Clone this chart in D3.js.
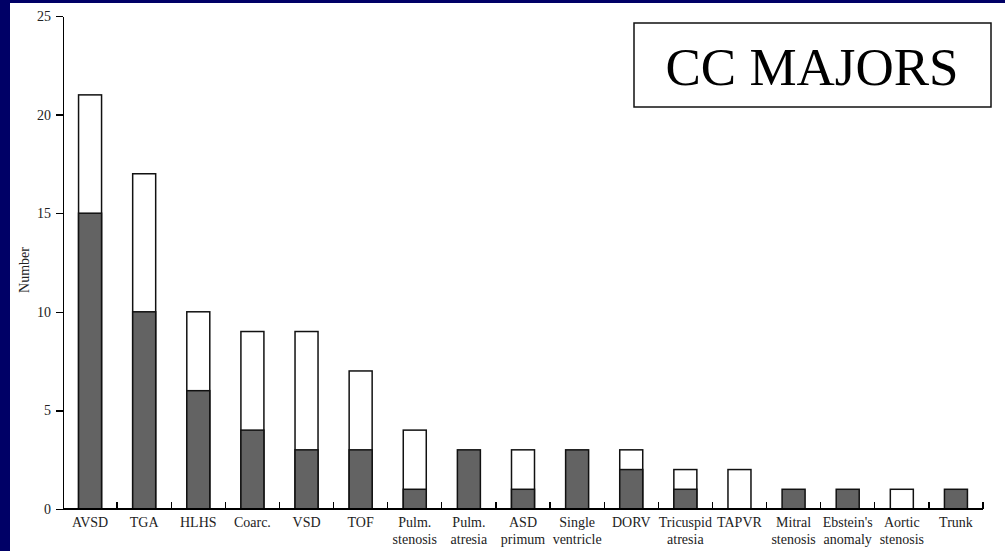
<!DOCTYPE html>
<html lang="en">
<head>
    <meta charset="UTF-8">
    <title>CC majors</title>
    <style>
        body{ margin:0; background:#000066; }
        svg{ display:block; }
        .axis text{ font: 14px "Liberation Serif", "DejaVu Serif", serif; fill:#222; }
        .axis path, .axis line{ fill:none; stroke:#000; stroke-width:1.3px; shape-rendering:crispEdges; }
        .bar--total{ fill:#fff; stroke:#111; stroke-width:1.5px; }
        .bar--part{ fill:#636363; stroke:#111; stroke-width:1.5px; }
    </style>
</head>
<body>
    <svg width="1005" height="551"></svg>
    <script src="https://d3js.org/d3.v7.min.js"></script>
    <script>
        var categories = ["AVSD", "TGA", "HLHS", "Coarc.", "VSD", "TOF", "Pulm.|stenosis", "Pulm.|atresia",
            "ASD|primum", "Single|ventricle", "DORV", "Tricuspid|atresia", "TAPVR", "Mitral|stenosis",
            "Ebstein's|anomaly", "Aortic|stenosis", "Trunk"];
        var totals = [21, 17, 10, 9, 9, 7, 4, 3, 3, 3, 3, 2, 2, 1, 1, 1, 1];
        var darkPart = [15, 10, 6, 4, 3, 3, 1, 3, 1, 3, 2, 1, 0, 1, 1, 0, 1];
        var yTicks = [0, 5, 10, 15, 20, 25];

        var svg = d3.select("svg");
        // white panel, navy frame on left and top
        svg.append("rect").attr("x", 10).attr("y", 3).attr("width", 995).attr("height", 548).attr("fill", "#fff");

        var margin = {top: 16, left: 63},
            width = 920, height = 493;

        var x = d3.scaleBand().domain(categories).range([0, width]).paddingInner(0.575).paddingOuter(0.2875);
        var y = d3.scaleLinear().domain([0, 25]).range([height, 0]);

        var g = svg.append("g").attr("transform", "translate(" + margin.left + "," + margin.top + ")");

        var data = categories.map(function(c, i){ return {name:c, total:totals[i], part:darkPart[i]}; });

        g.selectAll(".bar--total")
            .data(data.filter(function(d){ return d.total > d.part; }))
            .enter().append("rect")
            .attr("class", "bar--total")
            .attr("x", function(d){ return x(d.name); })
            .attr("y", function(d){ return y(d.total); })
            .attr("width", x.bandwidth())
            .attr("height", function(d){ return y(0) - y(d.total); });

        g.selectAll(".bar--part")
            .data(data.filter(function(d){ return d.part > 0; }))
            .enter().append("rect")
            .attr("class", "bar--part")
            .attr("x", function(d){ return x(d.name); })
            .attr("y", function(d){ return y(d.part); })
            .attr("width", x.bandwidth())
            .attr("height", function(d){ return y(0) - y(d.part); });

        // y axis
        g.append("g")
            .attr("class", "axis")
            .call(d3.axisLeft(y).tickValues(yTicks).tickSize(7).tickSizeOuter(0).tickPadding(5));

        // x axis: baseline, separator ticks pointing up, two-line labels
        var xa = g.append("g").attr("class", "axis").attr("transform", "translate(0," + height + ")");
        xa.append("line").attr("x1", 0).attr("x2", width).attr("y1", 0).attr("y2", 0);
        var step = x.step();
        xa.selectAll(".sep")
            .data(categories)
            .enter().append("line")
            .attr("class", "sep")
            .attr("x1", function(d){ return x(d) + x.bandwidth() / 2 + step / 2; })
            .attr("x2", function(d){ return x(d) + x.bandwidth() / 2 + step / 2; })
            .attr("y1", 0).attr("y2", -7);
        var lbl = xa.selectAll(".lbl")
            .data(categories)
            .enter().append("text")
            .attr("class", "lbl")
            .attr("text-anchor", "middle")
            .attr("transform", function(d){ return "translate(" + (x(d) + x.bandwidth() / 2) + ",18)"; });
        lbl.selectAll("tspan")
            .data(function(d){ return d.split("|"); })
            .enter().append("tspan")
            .attr("x", 0)
            .attr("dy", function(d, i){ return i === 0 ? 0 : 17; })
            .text(function(d){ return d; });

        // y label
        svg.append("text")
            .attr("transform", "translate(29,270) rotate(-90)")
            .attr("text-anchor", "middle")
            .style("font", "14px 'Liberation Serif', serif")
            .attr("fill", "#222")
            .text("Number");

        // title box
        svg.append("rect").attr("x", 634).attr("y", 23).attr("width", 357).attr("height", 84)
            .attr("fill", "#fff").attr("stroke", "#111").attr("stroke-width", 1.5);
        svg.append("text")
            .attr("x", 812).attr("y", 85)
            .attr("text-anchor", "middle")
            .style("font", "53px 'Liberation Serif', serif")
            .attr("fill", "#000")
            .text("CC MAJORS");
    </script>
</body>
</html>
